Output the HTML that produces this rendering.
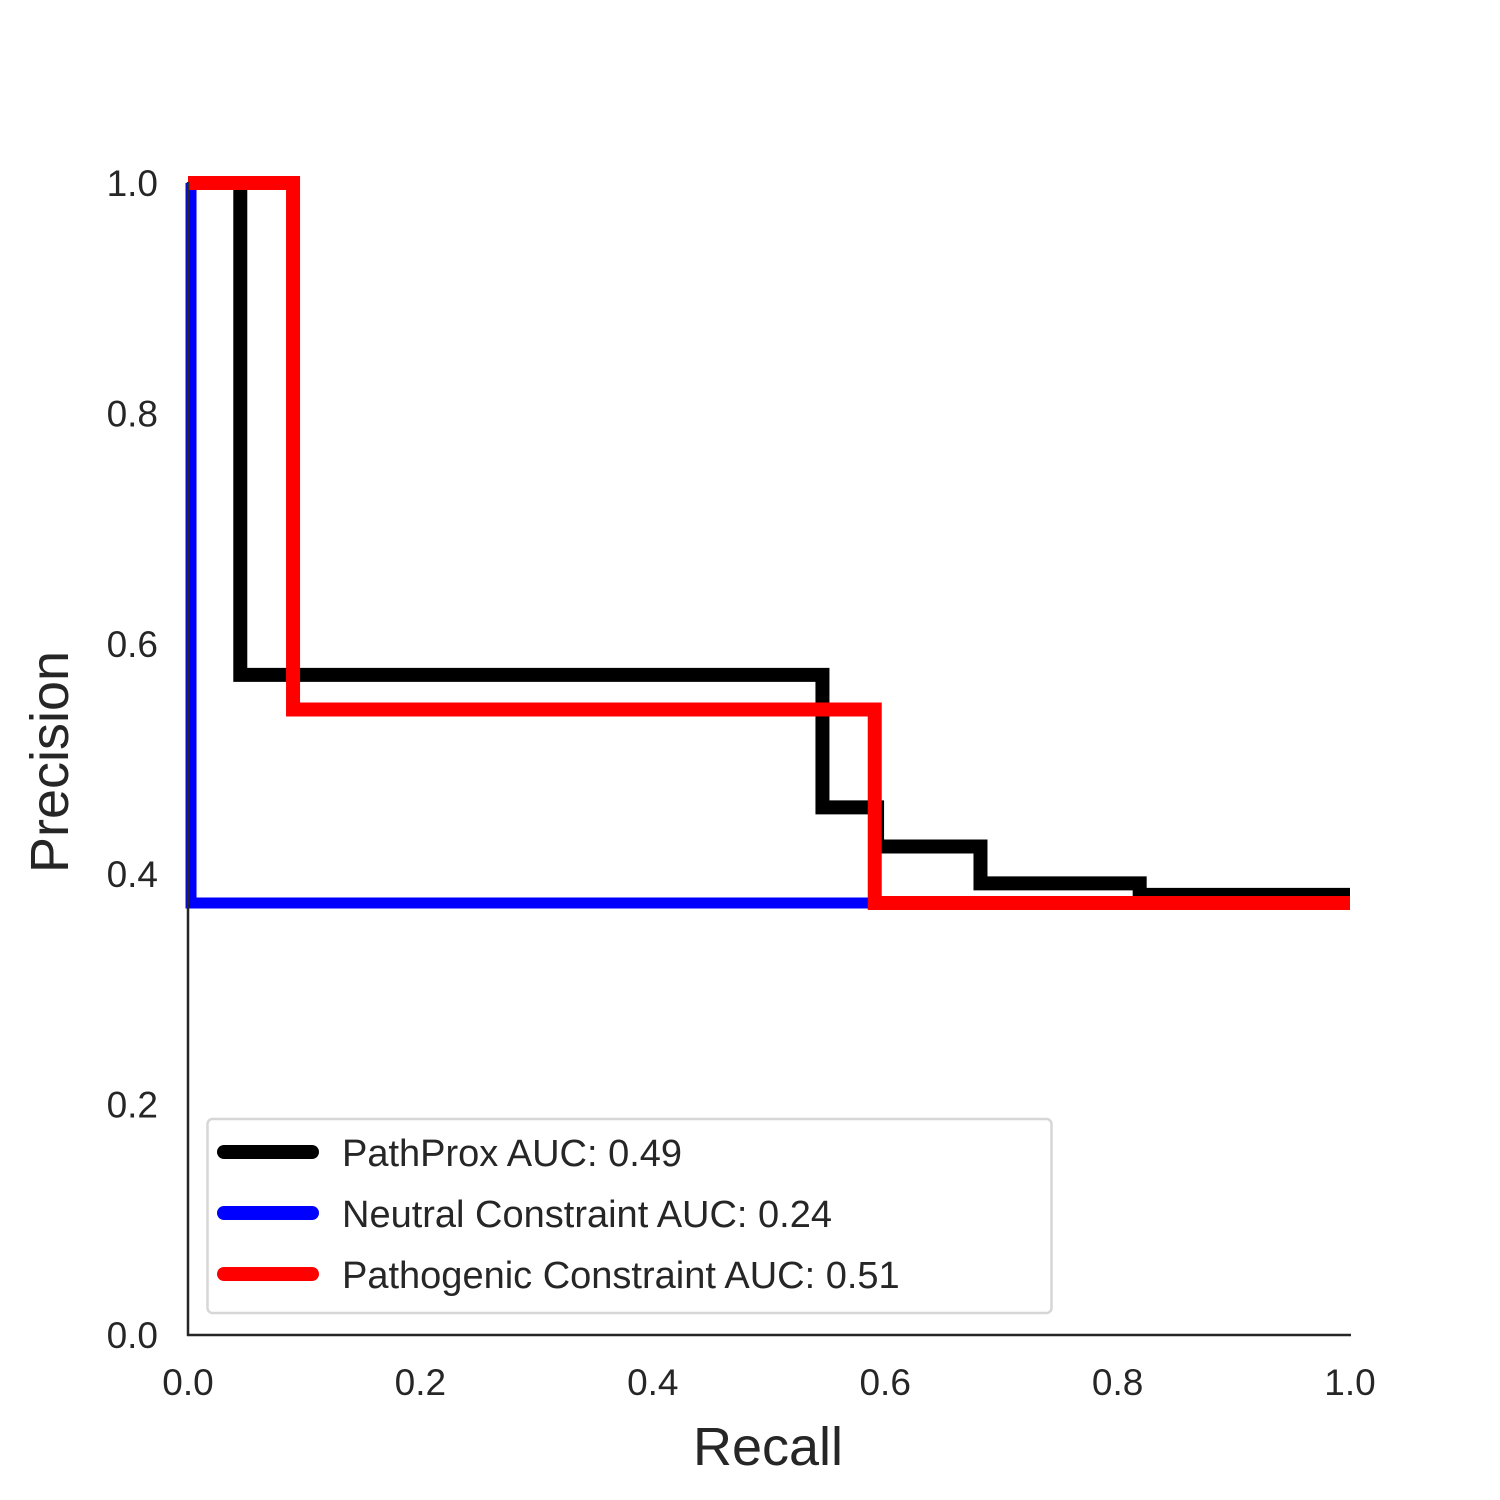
<!DOCTYPE html>
<html><head><meta charset="utf-8"><style>
html,body{margin:0;padding:0;background:#fff;}
svg{display:block;font-family:"Liberation Sans","DejaVu Sans",sans-serif;}
</style></head><body>
<svg id="chart" width="1500" height="1500" viewBox="0 0 1500 1500">
<rect width="1500" height="1500" fill="#fff"/>
<g id="ticks"></g>
<g id="series"></g>
<line x1="188" y1="182" x2="188" y2="1336" stroke="#262626" stroke-width="2.5"/>
<line x1="187" y1="1335" x2="1351" y2="1335" stroke="#262626" stroke-width="2.5"/>
<text x="768" y="1465" font-size="54" fill="#262626" text-anchor="middle">Recall</text>
<text x="68" y="762" font-size="54" fill="#262626" text-anchor="middle" transform="rotate(-90 68 762)">Precision</text>
<g>
<rect x="207.5" y="1119" width="844" height="194" rx="5" fill="#fff" fill-opacity="0.8" stroke="#d6d6d6" stroke-width="2.5"/>
<g><line x1="224" y1="1152" x2="312" y2="1152" stroke="#000" stroke-width="14" stroke-linecap="round"/><text x="342" y="1166" font-size="38" fill="#262626">PathProx AUC:  0.49</text></g>
<g><line x1="224" y1="1213" x2="312" y2="1213" stroke="#00f" stroke-width="14" stroke-linecap="round"/><text x="342" y="1227" font-size="38" fill="#262626">Neutral Constraint AUC:  0.24</text></g>
<g><line x1="224" y1="1274" x2="312" y2="1274" stroke="#f00" stroke-width="14" stroke-linecap="round"/><text x="342" y="1288" font-size="38" fill="#262626">Pathogenic Constraint AUC:  0.51</text></g>
</g>
</svg>
<script>
const xTicks=[0,0.2,0.4,0.6,0.8,1.0];
const yTicks=[0,0.2,0.4,0.6,0.8,1.0];
const blackRecall=[0,0.045,0.546,0.593,0.682,0.819,1.0];
const blackPrecision=[1,0.573,0.458,0.424,0.392,0.382,0.382];
const blueRecall=[0,0.0026,1.0];
const bluePrecision=[1,0.375,0.375];
const redRecall=[0,0.0904,0.591,1.0];
const redPrecision=[1,0.543,0.375,0.375];
const X=v=>188+v*1162;
const Y=v=>1335-v*1152;
const NS='http://www.w3.org/2000/svg';
const tg=document.getElementById('ticks');
xTicks.forEach(t=>{const e=document.createElementNS(NS,'text');
e.setAttribute('x',X(t));e.setAttribute('y',1395);e.setAttribute('font-size','37');e.setAttribute('fill','#262626');e.setAttribute('text-anchor','middle');


e.textContent=t.toFixed(1);tg.appendChild(e);});
yTicks.forEach(t=>{const e=document.createElementNS(NS,'text');
e.setAttribute('x',158);e.setAttribute('y',Y(t)+13);e.setAttribute('font-size','37');e.setAttribute('fill','#262626');e.setAttribute('text-anchor','end');


e.textContent=t.toFixed(1);tg.appendChild(e);});
const sg=document.getElementById('series');
function step(r,p,color,w,name){let d='M'+X(r[0])+' '+Y(p[0]);
for(let i=1;i<r.length;i++){d+=' H'+X(r[i])+' V'+Y(p[i]);}
const e=document.createElementNS(NS,'path');e.setAttribute('d',d);e.setAttribute('fill','none');e.setAttribute('stroke',color);e.setAttribute('stroke-width',w);


sg.appendChild(e);}
step(blackRecall,blackPrecision,'#000',14,'pathprox-line');
step(blueRecall,bluePrecision,'#00f',11,'neutral-constraint-line');
step(redRecall,redPrecision,'#f00',14,'pathogenic-constraint-line');
</script>
</body></html>
